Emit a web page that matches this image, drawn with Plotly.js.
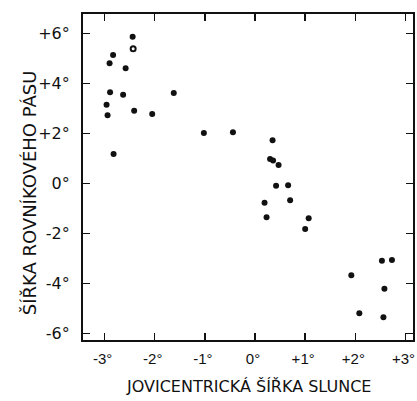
<!DOCTYPE html>
<html>
<head>
<meta charset="utf-8">
<script src="https://cdn.plot.ly/plotly-3.0.1.min.js"></script>
<style>html,body{margin:0;padding:0;background:#fff;}#chart{width:417px;height:401px;}</style>
</head>
<body>
<div id="chart"></div>
<script>
// Jovicentric latitude of the Sun (deg) vs latitude of the equatorial belt (deg)
const sunLat  = [-2.44, -2.83, -2.90, -2.58, -2.89, -2.63, -1.62, -2.96, -2.94, -2.41, -2.05, -2.82,
                 -1.02, -0.44, 0.35, 0.30, 0.36, 0.47, 0.42, 0.66, 0.19, 0.70, 0.23, 1.07, 1.00,
                 2.53, 2.73, 1.92, 2.58, 2.08, 2.56];
const beltLat = [5.87, 5.14, 4.81, 4.61, 3.65, 3.55, 3.62, 3.15, 2.73, 2.91, 2.78, 1.18,
                 2.02, 2.05, 1.73, 0.98, 0.92, 0.74, -0.09, -0.07, -0.77, -0.67, -1.35, -1.39, -1.82,
                 -3.09, -3.06, -3.67, -4.21, -5.19, -5.35];
const openSunLat  = [-2.43];
const openBeltLat = [5.39];

const xTickVals = [-3, -2, -1, 0, 1, 2, 3];
const xTickText = ['-3°', '-2°', '-1°', '0°', '+1°', '+2°', '+3°'];
const yTickVals = [6, 4, 2, 0, -2, -4, -6];
const yTickText = ['+6°', '+4°', '+2°', '0°', '-2°', '-4°', '-6°'];

const xTitle = 'JOVICENTRICKÁ ŠÍŘKA SLUNCE';
const yTitle = 'ŠÍŘKA ROVNÍKOVÉHO PÁSU';

const traces = [
  {x: sunLat, y: beltLat, type: 'scatter', mode: 'markers',
   marker: {color: '#111', size: 6}, hoverinfo: 'skip', showlegend: false},
  {x: openSunLat, y: openBeltLat, type: 'scatter', mode: 'markers',
   marker: {color: '#111', size: 5, symbol: 'circle-open', line: {width: 2, color: '#111'}},
   hoverinfo: 'skip', showlegend: false}
];

const font = {family: 'DejaVu Sans, sans-serif', color: '#111'};

const layout = {
  width: 417, height: 401,
  margin: {l: 83, r: 4, t: 14, b: 61},
  paper_bgcolor: '#fff', plot_bgcolor: '#fff',
  showlegend: false,
  font: font,
  xaxis: {
    range: [-3.43, 3.15], tickvals: xTickVals, ticktext: xTickText,
    ticks: 'inside', ticklen: 7, tickwidth: 1.5, tickcolor: '#111',
    showline: true, linewidth: 2, linecolor: '#111', mirror: 'ticks',
    showgrid: false, zeroline: false,
    tickfont: {family: 'Liberation Sans, Arial, sans-serif', size: 15, color: '#111'},
    ticklabelstandoff: 4, ticklabeloverflow: 'allow', ticklabelshift: -2
  },
  yaxis: {
    range: [-6.26, 6.78], tickvals: yTickVals, ticktext: yTickText,
    ticks: 'inside', ticklen: 7, tickwidth: 1.5, tickcolor: '#111',
    showline: true, linewidth: 2, linecolor: '#111', mirror: 'ticks',
    showgrid: false, zeroline: false,
    tickfont: {family: 'DejaVu Sans, sans-serif', size: 16, color: '#111'},
    ticklabelstandoff: 8, ticklabeloverflow: 'allow'
  },
  annotations: [
    {text: xTitle, xref: 'paper', yref: 'paper', x: 0.5, y: 0, xanchor: 'center', yanchor: 'middle',
     yshift: -46, showarrow: false, font: {family: 'DejaVu Sans, sans-serif', size: 16, color: '#111'}},
    {text: yTitle, xref: 'paper', yref: 'paper', x: 0, y: 0.45, xanchor: 'center', yanchor: 'middle',
     xshift: -54, textangle: -90, showarrow: false, font: {family: 'DejaVu Sans, sans-serif', size: 18, color: '#111'}}
  ]
};

Plotly.newPlot('chart', traces, layout, {staticPlot: true, displayModeBar: false});
</script>
</body>
</html>
